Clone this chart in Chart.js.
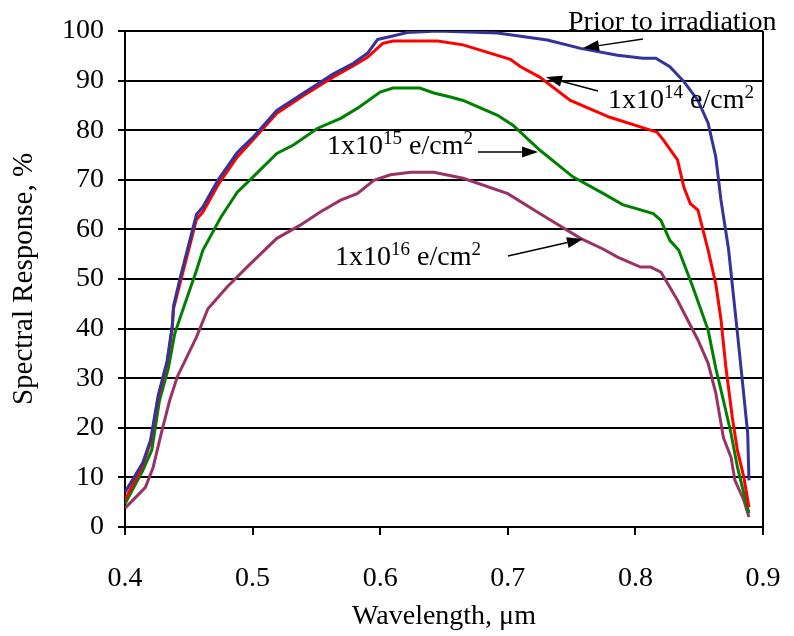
<!DOCTYPE html>
<html lang="en">
<head>
    <meta charset="UTF-8">
    <title>Spectral Response</title>
    <script src="https://cdn.jsdelivr.net/npm/chart.js"></script>
    <style>
        html, body {
            margin: 0;
            padding: 0;
            background: white;
        }
        #wrap {
            width: 794px;
            height: 636px;
        }
    </style>
</head>
<body>
    <div id="wrap"><canvas id="srChart"></canvas></div>

    <script>
        // Wavelength (um) and spectral response (%)
        const wavePrior = [0.400, 0.407, 0.414, 0.420, 0.426, 0.433, 0.437, 0.438, 0.443, 0.452, 0.456, 0.461, 0.473, 0.488, 0.500, 0.519, 0.540, 0.563, 0.579, 0.590, 0.598, 0.610, 0.621, 0.645, 0.692, 0.731, 0.757, 0.786, 0.806, 0.816, 0.827, 0.838, 0.849, 0.857, 0.863, 0.867, 0.873, 0.880, 0.884, 0.888, 0.889];
        const respPrior = [7.0, 10.0, 13.0, 17.5, 26.5, 33.5, 40.5, 44.5, 50.0, 59.0, 63.0, 64.5, 70.0, 75.5, 78.5, 84.0, 87.5, 91.3, 93.5, 95.5, 98.3, 99.0, 99.7, 100.0, 99.6, 98.2, 96.5, 95.1, 94.5, 94.5, 92.8, 89.8, 86.0, 81.4, 74.6, 66.0, 56.0, 39.0, 29.0, 18.9, 9.4];

        const wave1e14 = [0.400, 0.407, 0.414, 0.420, 0.426, 0.433, 0.437, 0.438, 0.443, 0.452, 0.456, 0.461, 0.473, 0.488, 0.500, 0.519, 0.540, 0.563, 0.579, 0.590, 0.602, 0.610, 0.645, 0.665, 0.702, 0.710, 0.725, 0.749, 0.780, 0.817, 0.822, 0.833, 0.838, 0.843, 0.849, 0.857, 0.863, 0.867, 0.871, 0.876, 0.880, 0.885, 0.889];
        const resp1e14 = [5.5, 9.0, 12.5, 17.0, 26.0, 33.0, 40.0, 44.0, 49.0, 58.0, 62.0, 63.5, 69.0, 74.6, 78.0, 83.4, 87.0, 90.7, 93.0, 94.7, 97.5, 98.0, 98.0, 97.2, 94.3, 92.8, 90.7, 86.0, 82.6, 79.6, 78.0, 74.0, 68.5, 65.2, 63.9, 55.8, 49.0, 42.0, 32.0, 22.0, 15.4, 10.0, 4.0];

        const wave1e15 = [0.400, 0.414, 0.421, 0.427, 0.434, 0.439, 0.446, 0.456, 0.461, 0.475, 0.488, 0.498, 0.519, 0.532, 0.551, 0.569, 0.582, 0.600, 0.610, 0.631, 0.642, 0.655, 0.665, 0.692, 0.704, 0.725, 0.751, 0.775, 0.790, 0.814, 0.820, 0.827, 0.834, 0.845, 0.857, 0.863, 0.869, 0.875, 0.880, 0.885, 0.889];
        const resp1e15 = [4.7, 11.4, 15.5, 25.5, 32.0, 39.0, 44.3, 51.7, 55.8, 62.4, 67.5, 70.0, 75.3, 77.0, 80.4, 82.4, 84.4, 87.7, 88.5, 88.5, 87.5, 86.7, 86.0, 83.0, 81.0, 76.0, 70.6, 67.2, 65.0, 63.2, 61.8, 57.8, 55.8, 48.4, 39.7, 32.0, 25.5, 18.8, 12.0, 6.8, 2.8];

        const wave1e16 = [0.400, 0.416, 0.422, 0.429, 0.435, 0.441, 0.456, 0.465, 0.480, 0.498, 0.519, 0.537, 0.553, 0.569, 0.582, 0.595, 0.608, 0.624, 0.642, 0.665, 0.700, 0.725, 0.757, 0.775, 0.786, 0.804, 0.812, 0.820, 0.833, 0.849, 0.857, 0.863, 0.869, 0.875, 0.878, 0.885, 0.889];
        const resp1e16 = [3.8, 8.0, 12.0, 19.5, 25.5, 30.3, 38.3, 44.0, 48.4, 53.0, 58.2, 60.8, 63.5, 65.9, 67.2, 69.9, 71.0, 71.5, 71.5, 70.3, 67.2, 63.2, 58.2, 56.0, 54.4, 52.4, 52.4, 51.4, 45.7, 37.7, 33.0, 27.0, 18.0, 14.0, 9.4, 5.4, 2.0];

        const xTicks = [0.4, 0.5, 0.6, 0.7, 0.8, 0.9];
        const yTicks = [0, 10, 20, 30, 40, 50, 60, 70, 80, 90, 100];

        const serif = "'Liberation Serif', 'Times New Roman', serif";

        function toPoints(xs, ys) {
            return xs.map((x, i) => ({ x: x, y: ys[i] }));
        }

        function makeSet(label, xs, ys, color) {
            return {
                label: label,
                data: toPoints(xs, ys),
                borderColor: color,
                backgroundColor: color,
                borderWidth: 3,
                pointRadius: 0,
                tension: 0,
                fill: false
            };
        }

        // text labels with superscripts, plus arrows pointing at the curves
        const notes = [
            { x: 568, y: 30, parts: [['Prior to irradiation', false]], arrow: [643, 39, 583, 48] },
            { x: 608, y: 108, parts: [['1x10', false], ['14', true], [' e/cm', false], ['2', true]], arrow: [598, 91, 546, 77] },
            { x: 327, y: 154, parts: [['1x10', false], ['15', true], [' e/cm', false], ['2', true]], arrow: [478, 152, 538, 152] },
            { x: 335, y: 265, parts: [['1x10', false], ['16', true], [' e/cm', false], ['2', true]], arrow: [508, 256, 583, 239] }
        ];

        function drawArrow(ctx, x1, y1, x2, y2) {
            const ang = Math.atan2(y2 - y1, x2 - x1);
            const len = 16, half = 5.5;
            const bx = x2 - len * Math.cos(ang), by = y2 - len * Math.sin(ang);
            ctx.beginPath();
            ctx.moveTo(x1, y1);
            ctx.lineTo(bx, by);
            ctx.lineWidth = 1.5;
            ctx.strokeStyle = '#000';
            ctx.stroke();
            ctx.beginPath();
            ctx.moveTo(x2, y2);
            ctx.lineTo(bx + half * Math.sin(ang), by - half * Math.cos(ang));
            ctx.lineTo(bx - half * Math.sin(ang), by + half * Math.cos(ang));
            ctx.closePath();
            ctx.fillStyle = '#000';
            ctx.fill();
        }

        const notesPlugin = {
            id: 'notes',
            afterDraw(chart) {
                const ctx = chart.ctx;
                ctx.save();
                ctx.textBaseline = 'alphabetic';
                ctx.textAlign = 'left';
                ctx.fillStyle = '#000';
                notes.forEach(n => {
                    let x = n.x;
                    n.parts.forEach(([txt, sup]) => {
                        ctx.font = (sup ? '19px ' : '28px ') + serif;
                        ctx.fillStyle = '#000';
                        ctx.fillText(txt, x, sup ? n.y - 10 : n.y);
                        x += ctx.measureText(txt).width;
                    });
                    const a = n.arrow;
                    drawArrow(ctx, a[0], a[1], a[2], a[3]);
                });
                ctx.restore();
            }
        };

        new Chart(document.getElementById('srChart'), {
            type: 'line',
            data: {
                datasets: [
                    makeSet('Prior to irradiation', wavePrior, respPrior, '#333399'),
                    makeSet('1x10^14 e/cm^2', wave1e14, resp1e14, '#ff0000'),
                    makeSet('1x10^15 e/cm^2', wave1e15, resp1e15, '#008000'),
                    makeSet('1x10^16 e/cm^2', wave1e16, resp1e16, '#993366')
                ]
            },
            options: {
                responsive: true,
                maintainAspectRatio: false,
                animation: false,
                layout: { padding: { top: 31, right: 31, left: 0, bottom: 0 } },
                plugins: {
                    legend: { display: false },
                    tooltip: { enabled: false }
                },
                scales: {
                    x: {
                        type: 'linear',
                        min: 0.4,
                        max: 0.9,
                        afterBuildTicks: s => { s.ticks = xTicks.map(v => ({ value: v })); },
                        afterFit: s => {
                            s.height = 109;
                            s.paddingLeft = 0;
                            s.paddingRight = 0;
                        },
                        ticks: {
                            color: '#000',
                            padding: 27,
                            maxRotation: 0,
                            font: { family: serif, size: 28 },
                            callback: v => v.toFixed(1)
                        },
                        grid: {
                            drawOnChartArea: true,
                            color: c => (c.index === xTicks.length - 1 ? '#000' : 'rgba(0,0,0,0)'),
                            tickColor: '#000',
                            tickLength: 8,
                            lineWidth: 2
                        },
                        border: { color: '#000', width: 2 },
                        title: {
                            display: true,
                            text: 'Wavelength, \u03bcm',
                            color: '#000',
                            font: { family: serif, size: 28 },
                            padding: { top: 0, bottom: 3 }
                        }
                    },
                    y: {
                        min: 0,
                        max: 100,
                        afterBuildTicks: s => { s.ticks = yTicks.map(v => ({ value: v })); },
                        afterFit: s => {
                            s.width = 125;
                            s.paddingTop = 0;
                            s.paddingBottom = 0;
                        },
                        ticks: {
                            color: '#000',
                            padding: 14,
                            font: { family: serif, size: 28 }
                        },
                        grid: {
                            color: '#000',
                            tickColor: '#000',
                            tickLength: 7,
                            lineWidth: 2
                        },
                        border: { color: '#000', width: 2 },
                        title: {
                            display: true,
                            text: 'Spectral Response, %',
                            color: '#000',
                            font: { family: serif, size: 29 },
                            padding: { top: 7, bottom: 0 }
                        }
                    }
                }
            },
            plugins: [notesPlugin]
        });
    </script>
</body>
</html>
